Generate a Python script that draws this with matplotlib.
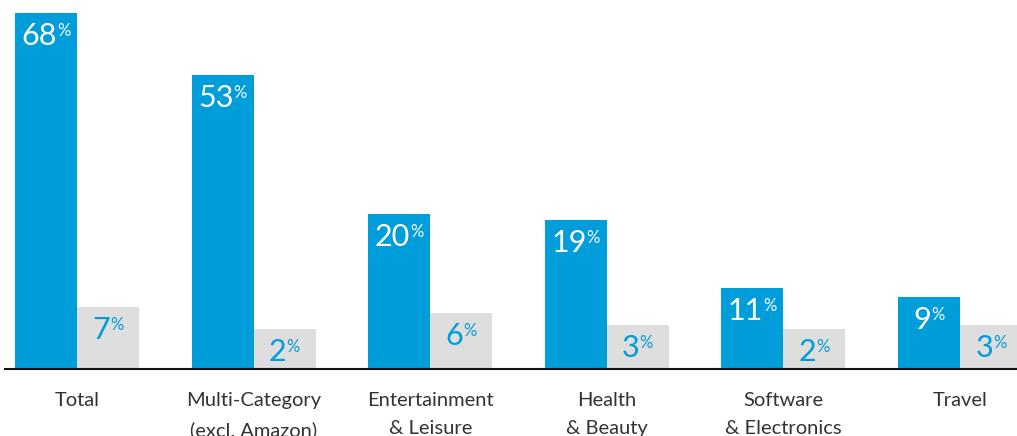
import numpy as np
import matplotlib
matplotlib.use("Agg")
import matplotlib.pyplot as plt

# Data
categories = ["Total", "Multi-Category\n(excl. Amazon)", "Entertainment\n& Leisure",
              "Health\n& Beauty", "Software\n& Electronics", "Travel"]
blue_pct = [68, 53, 20, 19, 11, 9]
gray_pct = [7, 2, 6, 3, 2, 3]
# drawn bar heights (the original is not drawn to scale)
blue_heights = [356, 294, 155, 149, 81, 72]
gray_heights = [62, 40, 56, 44, 40, 44]

BLUE = "#009DDB"
GRAY = "#DEDEDE"
TEXT = "#333333"

plt.rcParams["font.family"] = ["Lato", "DejaVu Sans"]

W, H = 1017, 436
fig = plt.figure(figsize=(W / 100, H / 100), dpi=100)
# axes from x=5px to the right edge, bottom on the baseline
ax = fig.add_axes([5 / W, (H - 369) / H, 1 - 5 / W, 369 / H])

step = 176.6  # px between groups
bw = 62 / step
x = np.arange(len(categories))

ax.bar(x - bw / 2, blue_heights, width=bw, color=BLUE, zorder=1)
ax.bar(x + bw / 2, gray_heights, width=bw, color=GRAY, zorder=1)

ax.set_xlim((5 - 77) / step, (W - 77) / step)
ax.set_ylim(0, 369)

for s in ["top", "right", "left"]:
    ax.spines[s].set_visible(False)
ax.spines["bottom"].set_linewidth(1.5)
ax.spines["bottom"].set_color("#111111")
ax.spines["bottom"].set_zorder(3)
ax.set_xticks([])
ax.set_yticks([])


def value_label(xc, top, val, color):
    t = ax.annotate(str(val), xy=(xc, top), xytext=(-5, -23), textcoords="offset points",
                    ha="center", va="baseline", fontsize=22, color=color,
                    annotation_clip=False)
    ax.annotate("%", xy=(1, 1), xycoords=t, xytext=(0, -1), textcoords="offset points",
                ha="left", va="top", fontsize=12, color=color)


for i in range(len(categories)):
    value_label(x[i] - bw / 2, blue_heights[i], blue_pct[i], "white")
    value_label(x[i] + bw / 2, gray_heights[i], gray_pct[i], BLUE)
    ax.annotate(categories[i], xy=(x[i], 0), xytext=(0, -16.5), textcoords="offset points",
                ha="center", va="top", fontsize=14.5, color=TEXT, linespacing=1.8,
                annotation_clip=False)

fig.savefig("out.png", dpi=100)
